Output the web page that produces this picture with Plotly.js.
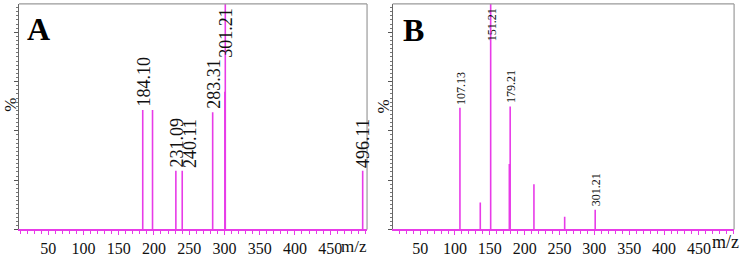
<!DOCTYPE html>
<html>
<head>
<meta charset="utf-8">
<script src="https://cdn.plot.ly/plotly-3.0.1.min.js"></script>
<style>
  html, body { margin: 0; padding: 0; background: #fff; }
  #chart { width: 743px; height: 259px; }
</style>
</head>
<body>
<div id="chart"></div>
<script>
// Mass spectra A and B (relative intensity, %)

// Spectrum A
const mzA        = [184.10, 198.0, 231.09, 240.11, 283.31, 300.6, 301.21, 496.11];
const intensityA = [53,     53,    26,     26,     52,     61,    100,    26];
const labelsA    = ['184.10', '', '231.09', '240.11', '283.31', '', '301.21', '496.11'];

// Spectrum B
const mzB        = [107.13, 136.3, 151.21, 178.0, 179.21, 213.3, 257.4, 301.21];
const intensityB = [54,     12,    100,    29,    54.5,   20,    5.6,   8.8];
const labelsB    = ['107.13', '', '151.21', '', '179.21', '', '', '301.21'];

const tickVals = [50, 100, 150, 200, 250, 300, 350, 400, 450];

const PEAK = '#e83be8';
const SERIF = 'Liberation Serif, Times New Roman, serif';

// stick spectrum: one vertical segment per peak
function sticks(mz, inten, xa, ya) {
    const x = [], y = [];
    mz.forEach((m, i) => {
        x.push(m, m, null);
        y.push(0, inten[i], null);
    });
    return {
        x: x, y: y, xaxis: xa, yaxis: ya,
        type: 'scatter', mode: 'lines',
        line: { color: PEAK, width: 1.6 },
        hoverinfo: 'skip', showlegend: false
    };
}

// rotated peak labels; neighbours that would collide get nudged right
function peakLabels(mz, inten, labels, xref, yref, size, pxPerUnit) {
    const out = [];
    let lastPx = -1e9;
    const minGap = size * 0.72;
    mz.forEach((m, i) => {
        if (!labels[i]) return;
        const atTop = inten[i] >= 99;
        const px = m * pxPerUnit;
        const shift = px - lastPx < minGap ? minGap - (px - lastPx) : 0;
        lastPx = px + shift;
        out.push({
            x: m, y: atTop ? 99 : inten[i] + 0.5,
            xref: xref, yref: yref,
            xshift: shift + 1,
            text: labels[i], textangle: -90,
            showarrow: false,
            xanchor: 'center', yanchor: atTop ? 'top' : 'bottom',
            font: { family: SERIF, size: size, color: '#111' }
        });
    });
    return out;
}

function xAxis(domain, range, anchor) {
    return {
        domain: domain, range: range, anchor: anchor,
        tickvals: tickVals, ticks: 'outside', ticklen: 4, tickcolor: PEAK,
        minor: { dtick: 10, ticks: 'outside', ticklen: 3, tickcolor: PEAK },
        showline: true, linecolor: PEAK, linewidth: 1.2,
        showgrid: false, zeroline: false,
        tickfont: { family: SERIF, size: 16, color: '#111' }
    };
}

function yAxis(anchor) {
    return {
        domain: [0.114, 0.985], range: [0, 100], anchor: anchor,
        tick0: 0, dtick: 21.85, ticks: 'outside', ticklen: 4, tickcolor: '#555',
        minor: { dtick: 21.85 / 12, ticks: 'outside', ticklen: 2, tickcolor: '#777' },
        showticklabels: false,
        showline: true, linecolor: '#666', linewidth: 1,
        showgrid: false, zeroline: false
    };
}

const data = [
    sticks(mzA, intensityA, 'x', 'y'),
    sticks(mzB, intensityB, 'x2', 'y2')
];

const frame = (xd, yd) => [
    { type: 'line', xref: xd, yref: yd, x0: 0, x1: 1, y0: 1, y1: 1,
      line: { color: '#9a9a9a', width: 1.2 } },
    { type: 'line', xref: xd, yref: yd, x0: 1, x1: 1, y0: 0, y1: 1,
      line: { color: '#9a9a9a', width: 1.2 } }
];

const annotations = [
    ...peakLabels(mzA, intensityA, labelsA, 'x', 'y', 18, 0.705),
    ...peakLabels(mzB, intensityB, labelsB, 'x2', 'y2', 12, 0.697),
    { text: '<b>A</b>', xref: 'paper', yref: 'paper', x: 0.033, y: 0.965,
      xanchor: 'left', yanchor: 'top', showarrow: false,
      font: { family: SERIF, size: 32, color: '#000' } },
    { text: '<b>B</b>', xref: 'paper', yref: 'paper', x: 0.54, y: 0.96,
      xanchor: 'left', yanchor: 'top', showarrow: false,
      font: { family: SERIF, size: 32, color: '#000' } },
    { text: '%', xref: 'paper', yref: 'paper', x: 0.0145, y: 0.595,
      xanchor: 'center', yanchor: 'middle',
      textangle: -90, showarrow: false,
      font: { family: SERIF, size: 17, color: '#111' } },
    { text: '%', xref: 'paper', yref: 'paper', x: 0.516, y: 0.59,
      xanchor: 'center', yanchor: 'middle',
      textangle: -90, showarrow: false,
      font: { family: SERIF, size: 17, color: '#111' } },
    { text: 'm/z', xref: 'paper', yref: 'paper', x: 0.497, y: 0.005,
      xanchor: 'right', yanchor: 'bottom', showarrow: false,
      font: { family: SERIF, size: 17, color: '#111' } },
    { text: 'm/z', xref: 'paper', yref: 'paper', x: 0.997, y: 0.02,
      xanchor: 'right', yanchor: 'bottom', showarrow: false,
      font: { family: SERIF, size: 18, color: '#111' } }
];

const layout = {
    width: 743, height: 259,
    margin: { t: 0, b: 0, l: 0, r: 0 },
    paper_bgcolor: '#fff', plot_bgcolor: '#fff',
    showlegend: false,
    xaxis: xAxis([0.0256, 0.494], [8.6, 502.3], 'y'),
    yaxis: yAxis('x'),
    xaxis2: xAxis([0.5285, 0.988], [10.6, 500.5], 'y2'),
    yaxis2: yAxis('x2'),
    shapes: [...frame('x domain', 'y domain'), ...frame('x2 domain', 'y2 domain')],
    annotations: annotations,
    font: { family: SERIF }
};

Plotly.newPlot('chart', data, layout, { staticPlot: true });
</script>
</body>
</html>
